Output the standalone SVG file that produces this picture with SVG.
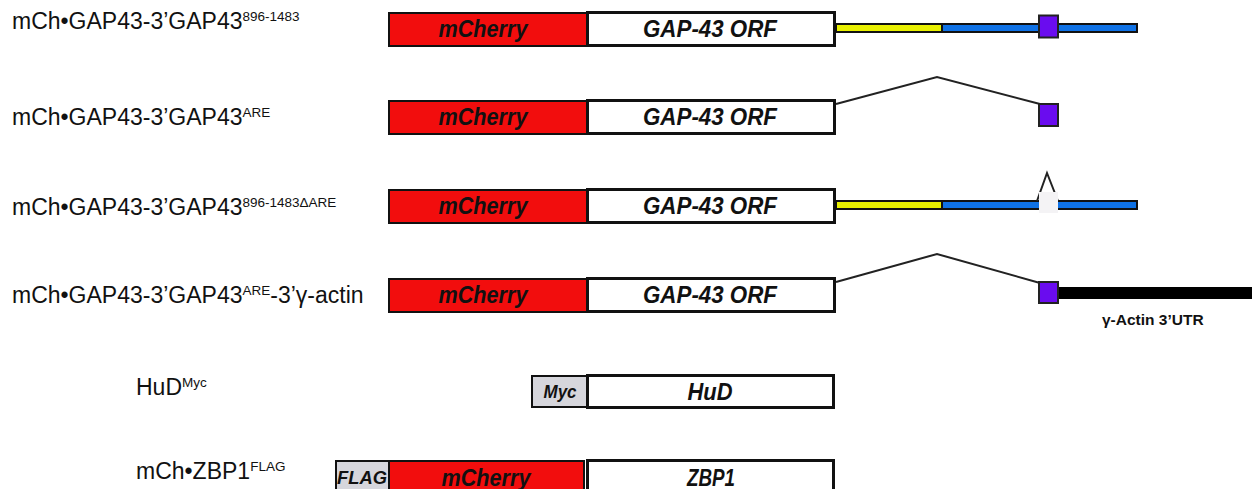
<svg xmlns="http://www.w3.org/2000/svg" width="1252" height="489" viewBox="0 0 1252 489">
  <style>
    .lbl { font-family: "Liberation Sans", Arial, sans-serif; font-size: 23px; fill: #111; }
    .sup { font-size: 13.5px; }
    .box-txt { font-family: "Liberation Sans", Arial, sans-serif; font-size: 23px; font-weight: bold; font-style: italic; fill: #111; text-anchor: middle; }
    .tag-txt { font-family: "Liberation Sans", Arial, sans-serif; font-size: 19px; font-weight: bold; font-style: italic; fill: #111; text-anchor: middle; }
    .utr-txt { font-family: "Liberation Sans", Arial, sans-serif; font-size: 15.5px; font-weight: bold; fill: #111; }
    .red { fill: #f20d0d; stroke: #111; stroke-width: 2; }
    .orf { fill: #ffffff; stroke: #111; stroke-width: 3; }
    .tag { fill: #d6d6dc; stroke: #111; stroke-width: 2; }
    .yel { fill: #e8f000; stroke: #111; stroke-width: 2; }
    .blu { fill: #0f72e6; stroke: #111; stroke-width: 2; }
    .pur { fill: #6a0cef; stroke: #222; stroke-width: 2; }
    .line { fill: none; stroke: #222; stroke-width: 2; }
  </style>

  <!-- Construct 1: full 3'UTR fragment 896-1483 -->
  <g id="row1">
    <text class="lbl" x="12" y="29">mCh•GAP43-3’GAP43<tspan class="sup" dy="-8">896-1483</tspan></text>
    <rect class="red" x="389" y="13" width="198" height="33"/>
    <text class="box-txt" x="483" y="37" textLength="89" lengthAdjust="spacingAndGlyphs">mCherry</text>
    <rect class="orf" x="587.5" y="12.5" width="247" height="33"/>
    <text class="box-txt" x="710" y="37" textLength="134" lengthAdjust="spacingAndGlyphs">GAP-43 ORF</text>
    <rect class="yel" x="836" y="24" width="106" height="8"/>
    <rect class="blu" x="942" y="24" width="195" height="8"/>
    <rect class="pur" x="1039" y="15.5" width="19" height="22"/>
  </g>

  <!-- Construct 2: ARE only -->
  <g id="row2">
    <text class="lbl" x="12" y="125">mCh•GAP43-3’GAP43<tspan class="sup" dy="-8">ARE</tspan></text>
    <rect class="red" x="389" y="101" width="198" height="33"/>
    <text class="box-txt" x="483" y="125" textLength="89" lengthAdjust="spacingAndGlyphs">mCherry</text>
    <rect class="orf" x="587.5" y="100.5" width="247" height="33"/>
    <text class="box-txt" x="710" y="125" textLength="134" lengthAdjust="spacingAndGlyphs">GAP-43 ORF</text>
    <rect class="pur" x="1039" y="104" width="19" height="22"/>
  </g>

  <!-- Construct 3: 896-1483 lacking the ARE -->
  <g id="row3">
    <text class="lbl" x="12" y="215">mCh•GAP43-3’GAP43<tspan class="sup" dy="-8">896-1483ΔARE</tspan></text>
    <rect class="red" x="389" y="190" width="198" height="33"/>
    <text class="box-txt" x="483" y="214" textLength="89" lengthAdjust="spacingAndGlyphs">mCherry</text>
    <rect class="orf" x="587.5" y="189.5" width="247" height="33"/>
    <text class="box-txt" x="710" y="214" textLength="134" lengthAdjust="spacingAndGlyphs">GAP-43 ORF</text>
    <rect class="yel" x="836" y="201" width="106" height="8"/>
    <rect class="blu" x="942" y="201" width="195" height="8"/>
  </g>

  <!-- Construct 4: ARE fused to gamma-actin 3'UTR -->
  <g id="row4">
    <text class="lbl" x="12" y="303">mCh•GAP43-3’GAP43<tspan class="sup" dy="-8">ARE</tspan><tspan dy="8">-3’γ-actin</tspan></text>
    <rect class="red" x="389" y="279" width="198" height="33"/>
    <text class="box-txt" x="483" y="303" textLength="89" lengthAdjust="spacingAndGlyphs">mCherry</text>
    <rect class="orf" x="587.5" y="278.5" width="247" height="33"/>
    <text class="box-txt" x="710" y="303" textLength="134" lengthAdjust="spacingAndGlyphs">GAP-43 ORF</text>
    <rect x="1058" y="287" width="194" height="12" fill="#000"/>
    <rect class="pur" x="1039" y="282" width="19" height="21"/>
    <text class="utr-txt" x="1102" y="325">γ-Actin 3’UTR</text>
  </g>

  <!-- HuD with Myc tag -->
  <g id="row5">
    <text class="lbl" x="136" y="395">HuD<tspan class="sup" dy="-8">Myc</tspan></text>
    <rect class="tag" x="532" y="376" width="55" height="31"/>
    <text class="tag-txt" x="560" y="398" textLength="33" lengthAdjust="spacingAndGlyphs">Myc</text>
    <rect class="orf" x="587.5" y="375.5" width="246" height="32"/>
    <text class="box-txt" x="710" y="400" textLength="45" lengthAdjust="spacingAndGlyphs">HuD</text>
  </g>

  <!-- ZBP1 with FLAG tag -->
  <g id="row6">
    <text class="lbl" x="136" y="479">mCh•ZBP1<tspan class="sup" dy="-8">FLAG</tspan></text>
    <rect class="tag" x="336" y="461" width="53" height="34"/>
    <text class="tag-txt" x="362" y="484" textLength="50" lengthAdjust="spacingAndGlyphs">FLAG</text>
    <rect class="red" x="389" y="461" width="195" height="34"/>
    <text class="box-txt" x="486" y="486" textLength="89" lengthAdjust="spacingAndGlyphs">mCherry</text>
    <rect class="orf" x="587.5" y="460.5" width="246" height="34"/>
    <text class="box-txt" x="711" y="486" textLength="48" lengthAdjust="spacingAndGlyphs">ZBP1</text>
  </g>

  <!-- Splice-style connectors for deleted regions -->
  <g id="connectors">
    <polyline class="line" points="836,104 937,77 1040,104"/>
    <polyline class="line" points="1037,201 1047,173 1058,201"/>
    <rect x="1039" y="192" width="19" height="21" fill="#f4f3f5"/>
    <polyline class="line" points="836,282 937,254 1040,283"/>
  </g>
</svg>
